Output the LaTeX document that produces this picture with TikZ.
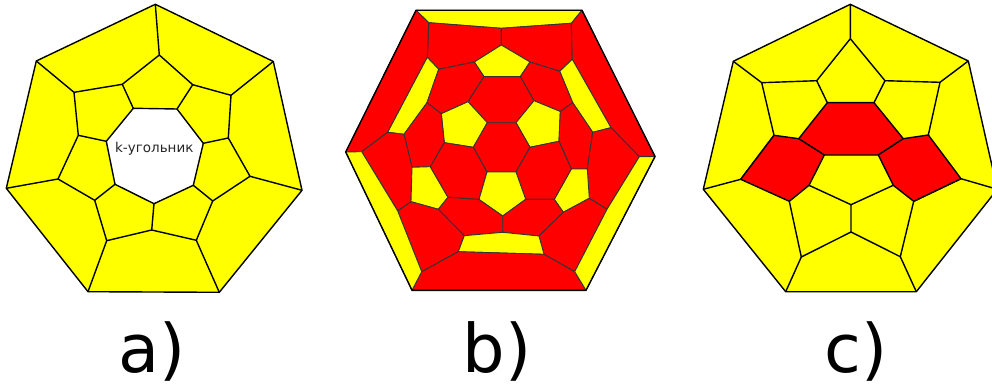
\documentclass[tikz,border=0pt]{standalone}
\usepackage{fontspec}
\setmainfont{DejaVu Sans}
\definecolor{cellyellow}{RGB}{255,255,0}
\definecolor{cellred}{RGB}{255,0,0}

\begin{document}
\begin{tikzpicture}[x=1pt, y=-1pt, line join=round]
        \tikzset{
          yel/.style ={draw=black, fill=cellyellow, line width=1.4pt},
          rd/.style  ={draw=black!80, fill=cellred, line width=0.9pt},
          yl/.style  ={draw=black!80, fill=cellyellow, line width=0.9pt},
          rim/.style ={draw=black, line width=1.4pt},
          seg/.style ={draw=black, line width=1.4pt},
          capt/.style={font=\fontsize{67}{67}\selectfont, inner sep=0pt, anchor=base}
        }
        \useasboundingbox (0,0) rectangle (992,385);
        %% --- a) ---
        \coordinate (aT)  at (155.3,4.3);
        \coordinate (aUR) at (273.3,61.5);
        \coordinate (aR)  at (302,190.3);
        \coordinate (aBR) at (219.3,292.3);
        \coordinate (aBL) at (88,291.7);
        \coordinate (aL)  at (6.3,188.3);
        \coordinate (aUL) at (36.3,61);
        \coordinate (m1) at (159.3,55);
        \coordinate (m2) at (231,95.3);
        \coordinate (m3) at (250,176.3);
        \coordinate (m4) at (196.3,240.3);
        \coordinate (m5) at (106.7,240.7);
        \coordinate (m6) at (58,179);
        \coordinate (m7) at (74,92.3);
        \coordinate (n1) at (192.7,84.7);
        \coordinate (n2) at (228.3,138);
        \coordinate (n3) at (212.7,201);
        \coordinate (n4) at (151.7,230);
        \coordinate (n5) at (94.7,200.3);
        \coordinate (n6) at (78.3,135.3);
        \coordinate (n7) at (122.3,84.3);
        \coordinate (h1) at (133.3,108.3);
        \coordinate (h2) at (177,109);
        \coordinate (h3) at (203.3,143.3);
        \coordinate (h4) at (193.3,185.3);
        \coordinate (h5) at (154,203.7);
        \coordinate (h6) at (115,184.3);
        \coordinate (h7) at (106.3,141.3);
        \draw[yel] (aT)--(aUR)--(aR)--(aBR)--(aBL)--(aL)--(aUL)--cycle;
        \draw[seg] (m1)--(n1)--(m2)--(n2)--(m3)--(n3)--(m4)--(n4)--(m5)--(n5)--(m6)--(n6)--(m7)--(n7)--cycle;
        \draw[seg] (aT)--(m1) (aUR)--(m2) (aR)--(m3) (aBR)--(m4) (aBL)--(m5) (aL)--(m6) (aUL)--(m7);
        \draw[seg, fill=white] (h1)--(h2)--(h3)--(h4)--(h5)--(h6)--(h7)--cycle;
        \draw[seg] (h1)--(n7) (h2)--(n1) (h3)--(n2) (h4)--(n3) (h5)--(n4) (h6)--(n5) (h7)--(n6);
        \node[font=\fontsize{13.5}{15}\selectfont, text=black!85, inner sep=0pt] (klabel) at (154.3,148.5) {k-угольник};
        %% --- b) ---
        \coordinate (TL) at (416,10.3);
        \coordinate (TR) at (582,10.3);
        \coordinate (R)  at (655,156.5);
        \coordinate (BR) at (586,290.3);
        \coordinate (BL) at (412,290.3);
        \coordinate (L)  at (345.7,152);
        \coordinate (A1) at (428.7,22.7);
        \coordinate (A2) at (501.3,28.3);
        \coordinate (A3) at (571.3,23.3);
        \coordinate (B1) at (427.3,57.3);
        \coordinate (B2) at (438.7,69.3);
        \coordinate (B3) at (474.3,62);
        \coordinate (B4) at (501.3,45);
        \coordinate (B5) at (530,62);
        \coordinate (B6) at (559.7,71.3);
        \coordinate (B7) at (572.3,59.3);
        \coordinate (C1) at (484,76.7);
        \coordinate (C2) at (520.3,76.7);
        \coordinate (C3) at (534,100.7);
        \coordinate (C4) at (516,122.7);
        \coordinate (C5) at (487.3,122.7);
        \coordinate (C6) at (468,101.7);
        \coordinate (D1) at (441.3,113.7);
        \coordinate (D2) at (427,102.7);
        \coordinate (D3) at (404,134.3);
        \coordinate (D4) at (387.7,132.3);
        \coordinate (D5) at (611,127.7);
        \coordinate (D6) at (592.7,132.3);
        \coordinate (D7) at (572.7,102.7);
        \coordinate (D8) at (560.3,111.5);
        \coordinate (E1) at (361.7,151.7);
        \coordinate (E2) at (397.7,211);
        \coordinate (E3) at (421.7,271.7);
        \coordinate (F1) at (639.3,156.7);
        \coordinate (F2) at (607,209.3);
        \coordinate (F3) at (574.7,271.7);
        \coordinate (G1) at (458.3,251.7);
        \coordinate (G2) at (544,254.3);
        \coordinate (G3) at (464.3,235.7);
        \coordinate (G4) at (502.7,232.3);
        \coordinate (G5) at (539,236);
        \coordinate (H1) at (412,167.3);
        \coordinate (H2) at (430.3,166.7);
        \coordinate (H3) at (448,197.3);
        \coordinate (H4) at (438.3,209.3);
        \coordinate (H5) at (411,201.7);
        \coordinate (P1) at (444.3,142.7);
        \coordinate (P2) at (473.3,147.3);
        \coordinate (P3) at (530,147.3);
        \coordinate (P4) at (559,141.3);
        \coordinate (I1) at (487,172);
        \coordinate (I2) at (479,199.5);
        \coordinate (I3) at (516,172);
        \coordinate (I4) at (525.7,199.3);
        \coordinate (I5) at (502.7,216);
        \coordinate (K1) at (571.3,169);
        \coordinate (K2) at (587.3,169);
        \coordinate (K3) at (589.3,198.3);
        \coordinate (K4) at (563.3,212.3);
        \coordinate (K5) at (554.3,199.3);
        \draw[yl] (TL)--(TR)--(A3)--(A2)--(A1)--cycle;
        \draw[rd] (A1)--(A2)--(B4)--(B3)--(B2)--(B1)--cycle;
        \draw[rd] (A2)--(A3)--(B7)--(B6)--(B5)--(B4)--cycle;
        \draw[yl] (B3)--(B4)--(B5)--(C2)--(C1)--cycle;
        \draw[rd] (TL)--(A1)--(B1)--(D4)--(E1)--(L)--cycle;
        \draw[rd] (TR)--(R)--(F1)--(D5)--(B7)--(A3)--cycle;
        \draw[yl] (B1)--(B2)--(D2)--(D3)--(D4)--cycle;
        \draw[yl] (B7)--(B6)--(D7)--(D6)--(D5)--cycle;
        \draw[rd] (B2)--(B3)--(C1)--(C6)--(D1)--(D2)--cycle;
        \draw[rd] (B5)--(B6)--(D7)--(D8)--(C3)--(C2)--cycle;
        \draw[rd] (C1)--(C2)--(C3)--(C4)--(C5)--(C6)--cycle;
        \draw[yl] (D1)--(C6)--(C5)--(P2)--(P1)--cycle;
        \draw[yl] (C3)--(C4)--(P3)--(P4)--(D8)--cycle;
        \draw[rd] (D2)--(D1)--(P1)--(H2)--(H1)--(D3)--cycle;
        \draw[rd] (D7)--(D8)--(P4)--(K1)--(K2)--(D6)--cycle;
        \draw[rd] (C5)--(C4)--(P3)--(I3)--(I1)--(P2)--cycle;
        \draw[rd] (E1)--(D4)--(D3)--(H1)--(H5)--(E2)--cycle;
        \draw[rd] (D6)--(D5)--(F1)--(F2)--(K3)--(K2)--cycle;
        \draw[yl] (H1)--(H2)--(H3)--(H4)--(H5)--cycle;
        \draw[yl] (K1)--(K2)--(K3)--(K4)--(K5)--cycle;
        \draw[rd] (P1)--(P2)--(I1)--(I2)--(H3)--(H2)--cycle;
        \draw[rd] (P3)--(P4)--(K1)--(K5)--(I4)--(I3)--cycle;
        \draw[yl] (I1)--(I3)--(I4)--(I5)--(I2)--cycle;
        \draw[rd] (H3)--(I2)--(I5)--(G4)--(G3)--(H4)--cycle;
        \draw[rd] (I5)--(I4)--(K5)--(K4)--(G5)--(G4)--cycle;
        \draw[rd] (E2)--(H5)--(H4)--(G3)--(G1)--(E3)--cycle;
        \draw[rd] (F2)--(K3)--(K4)--(G5)--(G2)--(F3)--cycle;
        \draw[yl] (G1)--(G3)--(G4)--(G5)--(G2)--cycle;
        \draw[rd] (BL)--(E3)--(G1)--(G2)--(F3)--(BR)--cycle;
        \draw[yl] (L)--(E1)--(E2)--(E3)--(BL)--cycle;
        \draw[yl] (R)--(F1)--(F2)--(F3)--(BR)--cycle;
        \draw[rim] (TL)--(TR)--(R)--(BR)--(BL)--(L)--cycle;
        %% --- c) ---
        \coordinate (cT)  at (850.3,4.3);
        \coordinate (cUR) at (968.3,61);
        \coordinate (cR)  at (997.3,189.3);
        \coordinate (cBR) at (916.3,291.7);
        \coordinate (cBL) at (785.7,291.7);
        \coordinate (cL)  at (703.3,189.3);
        \coordinate (cUL) at (733.3,61.3);
        \coordinate (c1)  at (850.3,38.7);
        \coordinate (c2)  at (885,80.7);
        \coordinate (c3)  at (940,82.3);
        \coordinate (c4)  at (928.3,135);
        \coordinate (c5)  at (961,178.7);
        \coordinate (c6)  at (913.7,201.3);
        \coordinate (c7)  at (900.3,256.7);
        \coordinate (c8)  at (851,232);
        \coordinate (c9)  at (801.3,257);
        \coordinate (c10) at (789.3,201.3);
        \coordinate (c11) at (740.7,179.3);
        \coordinate (c12) at (774,135.3);
        \coordinate (c13) at (761.7,82.7);
        \coordinate (c14) at (816.7,80.7);
        \coordinate (i1)  at (827.3,102.7);
        \coordinate (i2)  at (874,102.7);
        \coordinate (i3)  at (903.3,138.7);
        \coordinate (i4)  at (878.3,155);
        \coordinate (i5)  at (824.3,155);
        \coordinate (i6)  at (798.7,138.7);
        \coordinate (i7)  at (809,185.3);
        \coordinate (i8)  at (893.3,185.3);
        \coordinate (i9)  at (851,204.7);
        \begin{scope}
          \clip (690,0) rectangle (992,300);
          \draw[yel] (cT)--(cUR)--(cR)--(cBR)--(cBL)--(cL)--(cUL)--cycle;
          \draw[seg] (c1)--(c2)--(c3)--(c4) (c5)--(c6)--(c7)--(c8)--(c9)--(c10) (c11)--(c12)--(c13)--(c14)--(c1);
          \draw[seg] (cT)--(c1) (cUR)--(c3) (cR)--(c5) (cBR)--(c7) (cBL)--(c9) (cL)--(c11) (cUL)--(c13);
          \draw[seg] (i1)--(c14) (i2)--(c2) (i7)--(i9)--(i8) (i9)--(c8);
          \draw[seg, fill=cellred] (i1)--(i2)--(i3)--(i4)--(i5)--(i6)--cycle;
          \draw[seg, fill=cellred] (c12)--(i6)--(i5)--(i7)--(c10)--(c11)--cycle;
          \draw[seg, fill=cellred] (i3)--(c4)--(c5)--(c6)--(i8)--(i4)--cycle;
        \end{scope}
        %% --- labels ---
        \node[capt] (capa) at (152.5,372) {a)};
        \node[capt] (capb) at (497,372) {b)};
        \node[capt] (capc) at (856,372) {c)};
    \end{tikzpicture}
\end{document}
